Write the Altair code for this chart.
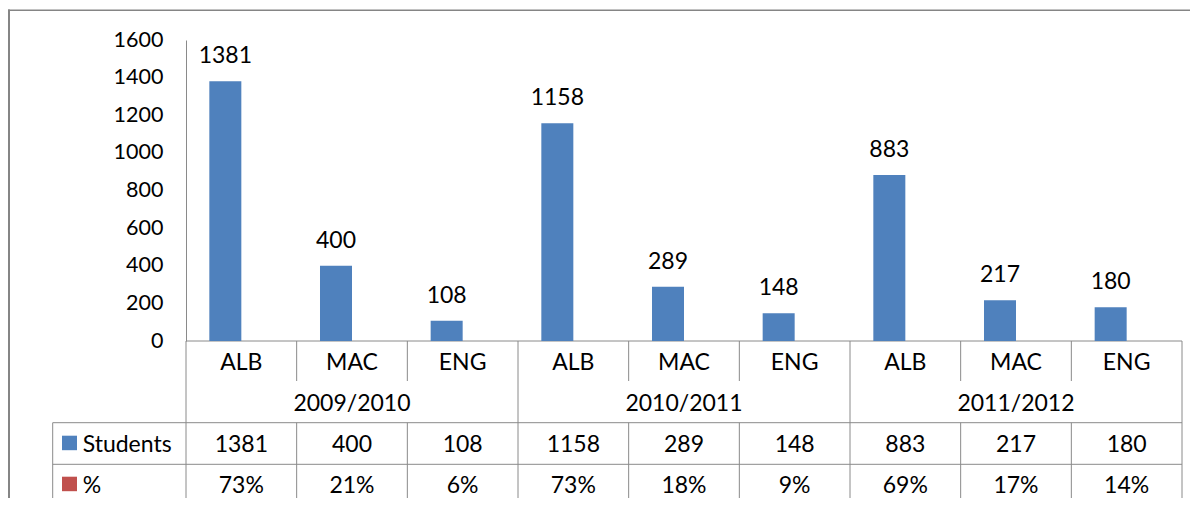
import altair as alt
import pandas as pd

# ---- data ----
years = ["2009/2010", "2010/2011", "2011/2012"]
subjects = ["ALB", "MAC", "ENG"]
students = [1381, 400, 108, 1158, 289, 148, 883, 217, 180]
percent = ["73%", "21%", "6%", "73%", "18%", "9%", "69%", "17%", "14%"]
series_names = ["Students", "%"]
series_colors = ["#4F81BD", "#C0504D"]
y_ticks = [0, 200, 400, 600, 800, 1000, 1200, 1400, 1600]

rows = []
for i, v in enumerate(students):
    rows.append({
        "idx": i,
        "cat": subjects[i % 3],
        "year": years[i // 3],
        "students": v,
        "pct": percent[i],
        "series": series_names[0],
    })
df = pd.DataFrame(rows)
one = pd.DataFrame({"k": [0]})

FONT = "Lato"
FS = 23
GRID = "#8A8A8A"
W, H = 996, 301

xscale = alt.Scale(domain=list(range(len(students))), paddingInner=0, paddingOuter=0)
yscale = alt.Scale(domain=[0, 1600], nice=False)
yaxis = alt.Axis(values=y_ticks, format="d", grid=False, ticks=False, tickSize=0,
                 domainColor=GRID, domainWidth=1, labelFontSize=21.5,
                 labelFont=FONT, labelColor="black", labelPadding=23,
                 labelOverlap=False, labelFlush=False, labelBound=False, title=None)
X = alt.X("idx:O", scale=xscale, axis=None)
Y = alt.Y("students:Q", scale=yscale, axis=yaxis)
XOFF = alt.XOffset("series:N", scale=alt.Scale(domain=series_names, paddingInner=0, paddingOuter=0.729))

base = alt.Chart(df)
single = alt.Chart(one)

bars = base.mark_bar(color=series_colors[0]).encode(x=X, xOffset=XOFF, y=Y)

bar_labels = base.mark_text(fontSize=FS, font=FONT, baseline="alphabetic", dy=-18, color="black").encode(
    x=X, xOffset=XOFF, y=Y, text="students:Q"
)

cat_text = base.mark_text(fontSize=FS, font=FONT, baseline="alphabetic", color="black").encode(
    x=X, y=alt.value(329.5), text="cat:N"
)
year_text = alt.Chart(df[df.idx % 3 == 1]).mark_text(fontSize=FS, font=FONT, baseline="alphabetic", color="black").encode(
    x=X, y=alt.value(370.5), text="year:N"
)
stud_text = base.mark_text(fontSize=FS, font=FONT, baseline="alphabetic", color="black").encode(
    x=X, y=alt.value(411.5), text="students:Q"
)
pct_text = base.mark_text(fontSize=FS, font=FONT, baseline="alphabetic", color="black").encode(
    x=X, y=alt.value(452.5), text="pct:N"
)

# grid lines of the category axis / data table
grp_df = df[df.idx % 3 == 0]
grp_lines = alt.Chart(grp_df).mark_rule(color=GRID, strokeWidth=1).encode(
    x=alt.X("idx:O", scale=xscale, axis=None, bandPosition=0),
    y=alt.value(301), y2=alt.value(470)
)
end_line = alt.Chart(df[df.idx == len(students) - 1]).mark_rule(color=GRID, strokeWidth=1).encode(
    x=alt.X("idx:O", scale=xscale, axis=None, bandPosition=1),
    y=alt.value(301), y2=alt.value(470)
)
cat_df = df[df.idx % 3 != 0]
cat_lines_top = alt.Chart(cat_df).mark_rule(color=GRID, strokeWidth=1).encode(
    x=alt.X("idx:O", scale=xscale, axis=None, bandPosition=0),
    y=alt.value(301), y2=alt.value(341)
)
cat_lines_tbl = alt.Chart(cat_df).mark_rule(color=GRID, strokeWidth=1).encode(
    x=alt.X("idx:O", scale=xscale, axis=None, bandPosition=0),
    y=alt.value(382.7), y2=alt.value(470)
)
baseline_rule = single.mark_rule(color=GRID, strokeWidth=1).encode(
    x=alt.value(0), x2=alt.value(W), y=alt.value(301)
)
h_lines = []
for yy in [382.7, 424.3, 466]:
    h_lines.append(single.mark_rule(color=GRID, strokeWidth=1).encode(
        x=alt.value(-133.3), x2=alt.value(W), y=alt.value(yy)))
left_tbl = single.mark_rule(color=GRID, strokeWidth=1).encode(
    x=alt.value(-133.3), y=alt.value(382.7), y2=alt.value(470)
)

# legend keys inside the data table
legend_layers = []
for name, col, ytop, ytxt in zip(series_names, series_colors, [395.7, 436.7], [411.5, 452.5]):
    legend_layers.append(single.mark_rect(color=col).encode(
        x=alt.value(-124), x2=alt.value(-109), y=alt.value(ytop), y2=alt.value(ytop + 14.5)))
    legend_layers.append(single.mark_text(fontSize=FS, font=FONT, align="left", baseline="alphabetic", color="black").encode(
        x=alt.value(-103.3), y=alt.value(ytxt), text=alt.value(name)))

# outer chart border
border_top = single.mark_rule(color="#858585", strokeWidth=1.5).encode(
    x=alt.value(-178), x2=alt.value(W + 10), y=alt.value(-29.7)
)
border_left = single.mark_rule(color="#858585", strokeWidth=2).encode(
    x=alt.value(-177), y=alt.value(-30.5), y2=alt.value(470)
)

chart = alt.layer(
    border_top, border_left,
    grp_lines, end_line, cat_lines_top, cat_lines_tbl, baseline_rule, *h_lines, left_tbl,
    bars, bar_labels, cat_text, year_text, stud_text, pct_text, *legend_layers,
).properties(
    width=W, height=H,
    autosize=alt.AutoSizeParams(type="none"),
    padding={"left": 178, "top": 32, "right": 8, "bottom": 157},
).configure_view(stroke=None).configure_axis(labelOverlap=False)

chart.save("out.html", embed_options={"renderer": "svg", "actions": False})
